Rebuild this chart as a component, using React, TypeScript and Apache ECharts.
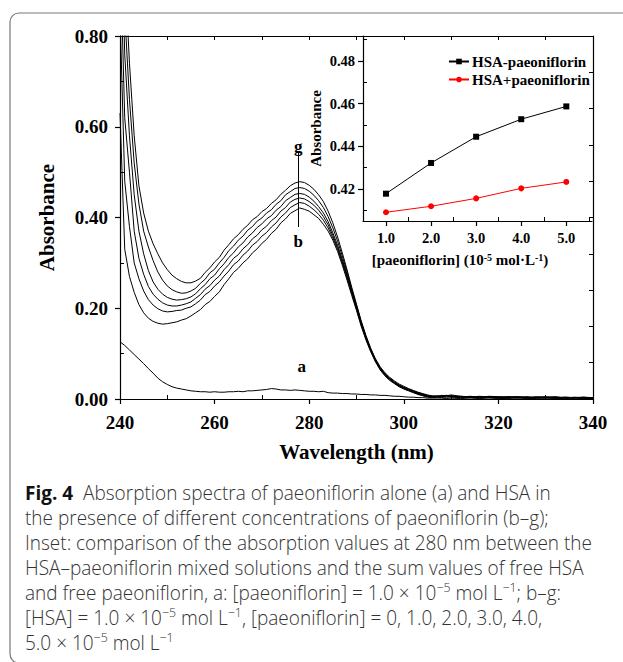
import React, { useEffect, useRef } from 'react';
import * as echarts from 'echarts';

// wavelength grid (nm)
const wavelengths = [
  240, 241, 242, 243, 244, 245, 246, 247, 248, 249,
  250, 251, 252, 253, 254, 255, 256, 257, 258, 259,
  260, 261, 262, 263, 264, 265, 266, 267, 268, 269,
  270, 271, 272, 273, 274, 275, 276, 277, 278, 279,
  280, 281, 282, 283, 284, 285, 286, 287, 288, 289,
  290, 291, 292, 293, 294, 295, 296, 297, 298, 299,
  300, 301, 302, 303, 304, 305, 306, 307, 308, 309,
  310,
  312, 314, 316, 318, 320, 322, 324, 326, 328, 330, 332, 334, 336, 338, 340,
];

const curveA = [
  0.126, 0.118, 0.108, 0.098, 0.088, 0.078, 0.067, 0.057, 0.046, 0.038,
  0.032, 0.027, 0.024, 0.022, 0.02, 0.018, 0.017, 0.016, 0.016, 0.015,
  0.016, 0.015, 0.015, 0.016, 0.016, 0.017, 0.016, 0.018, 0.018, 0.019,
  0.02, 0.021, 0.023, 0.022, 0.02, 0.02, 0.019, 0.02, 0.019, 0.018,
  0.017, 0.017, 0.016, 0.017, 0.014, 0.013, 0.013, 0.012, 0.012, 0.011,
  0.011, 0.01, 0.01, 0.009, 0.009, 0.008, 0.008, 0.007, 0.006, 0.006,
  0.005, 0.004, 0.004, 0.003, 0.003, 0.002, 0.002, 0.002, 0.002, 0.001,
  0.002,
  0.001, 0.002, 0.001, 0.002, 0.001, 0.001, 0.002, 0.001, 0.001, 0.002, 0.001, 0.001, 0.002, 0.001, 0.001,
];

const curveB = [
  0.63, 0.33, 0.27, 0.235, 0.208, 0.19, 0.178, 0.171, 0.167, 0.165,
  0.166, 0.168, 0.17, 0.174, 0.177, 0.183, 0.19, 0.197, 0.208, 0.215,
  0.226, 0.236, 0.252, 0.265, 0.279, 0.288, 0.3, 0.309, 0.322, 0.331,
  0.343, 0.352, 0.365, 0.374, 0.388, 0.397, 0.409, 0.415, 0.421, 0.418,
  0.414, 0.406, 0.398, 0.385, 0.37, 0.35, 0.325, 0.295, 0.262, 0.228,
  0.195, 0.16, 0.13, 0.104, 0.082, 0.064, 0.051, 0.041, 0.034, 0.027,
  0.022, 0.018, 0.014, 0.01, 0.007, 0.004, 0.003, 0.004, 0.003, 0.005,
  0.004,
  0.003, 0.005, 0.002, 0.004, 0.003, 0.005, 0.002, 0.004, 0.003, 0.002, 0.004, 0.003, 0.002, 0.003, 0.002,
];

const curveC = [
  0.85, 0.48, 0.38, 0.3, 0.265, 0.238, 0.219, 0.207, 0.199, 0.194,
  0.192, 0.193, 0.195, 0.196, 0.2, 0.203, 0.21, 0.218, 0.23, 0.237,
  0.249, 0.258, 0.271, 0.282, 0.296, 0.304, 0.317, 0.326, 0.339, 0.347,
  0.359, 0.367, 0.379, 0.388, 0.401, 0.41, 0.422, 0.428, 0.433, 0.431,
  0.425, 0.417, 0.407, 0.394, 0.377, 0.355, 0.33, 0.3, 0.267, 0.232,
  0.198, 0.163, 0.133, 0.106, 0.084, 0.066, 0.053, 0.043, 0.035, 0.028,
  0.023, 0.019, 0.015, 0.011, 0.008, 0.005, 0.004, 0.005, 0.006, 0.004,
  0.006,
  0.005, 0.003, 0.005, 0.004, 0.002, 0.004, 0.005, 0.003, 0.004, 0.003, 0.002, 0.004, 0.003, 0.002, 0.003,
];

const curveD = [
  1.0, 0.62, 0.5, 0.37, 0.31, 0.275, 0.248, 0.231, 0.22, 0.212,
  0.207, 0.205, 0.205, 0.207, 0.21, 0.214, 0.222, 0.23, 0.242, 0.25,
  0.262, 0.271, 0.285, 0.296, 0.31, 0.318, 0.331, 0.34, 0.353, 0.361,
  0.373, 0.381, 0.393, 0.401, 0.414, 0.422, 0.434, 0.44, 0.443, 0.441,
  0.435, 0.427, 0.416, 0.402, 0.384, 0.36, 0.334, 0.304, 0.271, 0.236,
  0.201, 0.166, 0.135, 0.108, 0.085, 0.067, 0.054, 0.044, 0.036, 0.029,
  0.024, 0.02, 0.016, 0.012, 0.009, 0.006, 0.005, 0.006, 0.005, 0.007,
  0.005,
  0.006, 0.004, 0.003, 0.005, 0.004, 0.003, 0.004, 0.002, 0.005, 0.003, 0.004, 0.002, 0.003, 0.004, 0.002,
];

const curveE = [
  1.15, 0.76, 0.58, 0.45, 0.37, 0.32, 0.283, 0.258, 0.242, 0.231,
  0.224, 0.22, 0.218, 0.219, 0.221, 0.225, 0.232, 0.243, 0.252, 0.265,
  0.273, 0.287, 0.298, 0.312, 0.322, 0.335, 0.344, 0.357, 0.366, 0.378,
  0.386, 0.397, 0.404, 0.416, 0.424, 0.437, 0.444, 0.451, 0.453, 0.451,
  0.445, 0.436, 0.424, 0.41, 0.391, 0.366, 0.339, 0.308, 0.275, 0.239,
  0.204, 0.168, 0.137, 0.109, 0.086, 0.068, 0.055, 0.045, 0.037, 0.03,
  0.025, 0.021, 0.017, 0.013, 0.01, 0.007, 0.006, 0.005, 0.007, 0.008,
  0.006,
  0.004, 0.006, 0.004, 0.003, 0.005, 0.004, 0.003, 0.005, 0.003, 0.004, 0.002, 0.004, 0.003, 0.002, 0.003,
];

const curveF = [
  1.3, 0.85, 0.66, 0.52, 0.43, 0.37, 0.335, 0.305, 0.28, 0.262,
  0.249, 0.241, 0.236, 0.233, 0.234, 0.238, 0.244, 0.255, 0.264, 0.278,
  0.286, 0.3, 0.312, 0.327, 0.337, 0.35, 0.359, 0.372, 0.38, 0.392,
  0.399, 0.41, 0.417, 0.429, 0.437, 0.45, 0.457, 0.464, 0.466, 0.464,
  0.458, 0.449, 0.437, 0.422, 0.402, 0.377, 0.348, 0.315, 0.28, 0.242,
  0.206, 0.17, 0.138, 0.11, 0.087, 0.069, 0.056, 0.046, 0.038, 0.031,
  0.026, 0.022, 0.018, 0.014, 0.011, 0.008, 0.006, 0.007, 0.006, 0.008,
  0.007,
  0.005, 0.004, 0.006, 0.004, 0.003, 0.005, 0.004, 0.003, 0.004, 0.005, 0.003, 0.002, 0.004, 0.003, 0.002,
];

const curveG = [
  1.45, 0.95, 0.74, 0.58, 0.47, 0.41, 0.37, 0.342, 0.32, 0.3,
  0.285, 0.273, 0.265, 0.259, 0.256, 0.256, 0.26, 0.266, 0.279, 0.289,
  0.302, 0.312, 0.328, 0.34, 0.353, 0.362, 0.374, 0.383, 0.395, 0.402,
  0.413, 0.42, 0.431, 0.439, 0.451, 0.46, 0.47, 0.476, 0.479, 0.477,
  0.471, 0.462, 0.45, 0.435, 0.414, 0.388, 0.357, 0.322, 0.285, 0.246,
  0.209, 0.172, 0.14, 0.112, 0.089, 0.071, 0.058, 0.048, 0.04, 0.033,
  0.028, 0.023, 0.019, 0.015, 0.012, 0.009, 0.007, 0.006, 0.008, 0.007,
  0.009,
  0.006, 0.005, 0.004, 0.006, 0.005, 0.003, 0.005, 0.004, 0.003, 0.004, 0.005, 0.003, 0.002, 0.004, 0.003,
];

// inset
const insetConc = [1.0, 2.0, 3.0, 4.0, 5.0];
const insetMixed = [0.4178, 0.4322, 0.4445, 0.4527, 0.4587];
const insetSum = [0.4091, 0.4119, 0.4156, 0.4203, 0.4233];
const insetXTicks = [1, 2, 3, 4, 5];
const insetXMinor = [1.5, 2.5, 3.5, 4.5, 5.5];
const insetYTicks = [0.42, 0.44, 0.46, 0.48];
const insetYMinor = [0.41, 0.43, 0.45, 0.47, 0.49];
const mainYMinor = [0.1, 0.3, 0.5, 0.7];
const mainXMinor = [250, 270, 290, 310, 330];

const captionLines = [
  '{b|Fig. 4}  Absorption spectra of paeoniflorin alone (a) and HSA in',
  'the presence of different concentrations of paeoniflorin (b–g);',
  'Inset: comparison of the absorption values at 280 nm between the',
  'HSA–paeoniflorin mixed solutions and the sum values of free HSA',
  'and free paeoniflorin, a: [paeoniflorin] = 1.0 × 10{s|−5} mol L{s|−1}; b–g:',
  '[HSA] = 1.0 × 10{s|−5} mol L{s|−1}, [paeoniflorin] = 0, 1.0, 2.0, 3.0, 4.0,',
  '5.0 × 10{s|−5} mol L{s|−1}',
];

const SERIF = '"Liberation Serif", "Times New Roman", serif';
const SANS = '"Open Sans", "Noto Sans", sans-serif';

export default function App() {
  const ref = useRef<HTMLDivElement>(null);
  useEffect(() => {
    if (!ref.current) return;
    const chart = echarts.init(ref.current, null, { renderer: 'svg' });
    const pair = (ys: number[]) => wavelengths.map((w, i) => [w, ys[i]]);
    const lineSer = (name: string, ys: number[], extra: any = {}) => ({
      name,
      type: 'line',
      xAxisIndex: 0,
      yAxisIndex: 0,
      data: pair(ys),
      showSymbol: false,
      symbol: 'none',
      clip: true,
      lineStyle: { color: '#000', width: 1 },
      itemStyle: { color: '#000' },
      silent: true,
      z: 3,
      ...extra,
    });
    const black = '#000';
    const axisLine = { show: true, onZero: false, lineStyle: { color: black, width: 1.2 } };
    const noLine = { show: false, onZero: false };
    const noLabel = { show: false };
    const boldLabel = (size: number, margin: number, fmt: (v: number) => string) => ({
      show: true,
      color: black,
      fontFamily: SERIF,
      fontWeight: 'bold',
      fontSize: size,
      margin,
      formatter: fmt,
    });

    const option: any = {
      animation: false,
      backgroundColor: '#fff',
      grid: [
        { left: 120, right: 30, top: 36, height: 363 },
        { left: 363, right: 31, top: 36, height: 185 },
      ],
      xAxis: [
        {
          gridIndex: 0, type: 'value', position: 'bottom', min: 240, max: 340, interval: 20,
          axisLine, splitLine: { show: false },
          axisTick: { show: true, inside: false, length: 5, lineStyle: { color: black, width: 1.2 } },
          axisLabel: boldLabel(19, 14, (v: number) => String(v)),
          name: 'Wavelength (nm)', nameLocation: 'middle', nameGap: 42,
          nameTextStyle: { color: black, fontFamily: SERIF, fontWeight: 'bold', fontSize: 21 },
        },
        {
          gridIndex: 0, type: 'value', position: 'bottom', min: 240, max: 340,
          axisLine: noLine, splitLine: { show: false }, axisLabel: noLabel,
          axisTick: { show: true, inside: true, length: 4, customValues: mainXMinor, lineStyle: { color: black, width: 1 } },
        },
        {
          gridIndex: 0, type: 'value', position: 'top', min: 240, max: 340, interval: 10,
          axisLine, splitLine: { show: false }, axisLabel: noLabel,
          axisTick: { show: true, inside: true, length: 4, lineStyle: { color: black, width: 1 } },
        },
        {
          gridIndex: 1, type: 'value', position: 'bottom', min: 0.49, max: 5.57,
          axisLine, splitLine: { show: false },
          axisTick: { show: true, inside: false, length: 5, customValues: insetXTicks, lineStyle: { color: black, width: 1.2 } },
          axisLabel: { ...boldLabel(14.5, 9, (v: number) => v.toFixed(1)), customValues: insetXTicks },
        },
        {
          gridIndex: 1, type: 'value', position: 'bottom', min: 0.49, max: 5.57,
          axisLine: noLine, splitLine: { show: false }, axisLabel: noLabel,
          axisTick: { show: true, inside: true, length: 4, customValues: insetXMinor, lineStyle: { color: black, width: 1 } },
        },
      ],
      yAxis: [
        {
          gridIndex: 0, type: 'value', position: 'left', min: 0, max: 0.8, interval: 0.2,
          axisLine, splitLine: { show: false },
          axisTick: { show: true, inside: false, length: 5, lineStyle: { color: black, width: 1.2 } },
          axisLabel: boldLabel(19, 12, (v: number) => v.toFixed(2)),
          name: 'Absorbance', nameLocation: 'middle', nameGap: 63,
          nameTextStyle: { color: black, fontFamily: SERIF, fontWeight: 'bold', fontSize: 21 },
        },
        {
          gridIndex: 0, type: 'value', position: 'left', min: 0, max: 0.8,
          axisLine: noLine, splitLine: { show: false }, axisLabel: noLabel,
          axisTick: { show: true, inside: true, length: 4, customValues: mainYMinor, lineStyle: { color: black, width: 1 } },
        },
        {
          gridIndex: 0, type: 'value', position: 'right', min: 0, max: 0.8, interval: 0.08,
          axisLine, splitLine: { show: false }, axisLabel: noLabel,
          axisTick: { show: true, inside: true, length: 4, lineStyle: { color: black, width: 1 } },
        },
        {
          gridIndex: 1, type: 'value', position: 'left', min: 0.405, max: 0.4917,
          axisLine, splitLine: { show: false },
          axisTick: { show: true, inside: false, length: 5, customValues: insetYTicks, lineStyle: { color: black, width: 1.2 } },
          axisLabel: { ...boldLabel(14.5, 8, (v: number) => v.toFixed(2)), customValues: insetYTicks },
          name: 'Absorbance', nameLocation: 'middle', nameGap: 40,
          nameTextStyle: { color: black, fontFamily: SERIF, fontWeight: 'bold', fontSize: 15 },
        },
        {
          gridIndex: 1, type: 'value', position: 'left', min: 0.405, max: 0.4917,
          axisLine: noLine, splitLine: { show: false }, axisLabel: noLabel,
          axisTick: { show: true, inside: true, length: 4, customValues: insetYMinor, lineStyle: { color: black, width: 1 } },
        },
      ],
      legend: {
        show: true,
        data: ['HSA-paeoniflorin', 'HSA+paeoniflorin'],
        orient: 'vertical',
        left: 443,
        top: 49,
        itemWidth: 20,
        itemHeight: 7,
        itemGap: 3,
        selectedMode: false,
        textStyle: { color: black, fontFamily: SERIF, fontWeight: 'bold', fontSize: 15, padding: [0, 0, 0, -2] },
      },
      series: [
        lineSer('b', curveB, {
          markLine: {
            silent: true,
            symbol: ['none', 'arrow'],
            symbolSize: [0, 8],
            lineStyle: { color: black, width: 1, type: 'solid' },
            label: { show: false },
            data: [[{ coord: [277.7, 0.379] }, { coord: [277.7, 0.544] }]],
          },
          markPoint: {
            silent: true,
            symbol: 'circle',
            symbolSize: 1,
            itemStyle: { color: 'rgba(0,0,0,0)' },
            label: {
              show: true, position: 'inside', formatter: '{b}', color: black,
              fontFamily: SERIF, fontWeight: 'bold', fontSize: 17,
            },
            data: [
              { name: 'b', coord: [277.7, 0.347] },
              { name: 'g', coord: [277.7, 0.556] },
              { name: 'a', coord: [278.4, 0.071] },
            ],
          },
        }),
        lineSer('c', curveC),
        lineSer('d', curveD),
        lineSer('e', curveE),
        lineSer('f', curveF),
        lineSer('g', curveG),
        lineSer('a', curveA),
        {
          name: 'HSA-paeoniflorin', type: 'line', xAxisIndex: 3, yAxisIndex: 3,
          data: insetConc.map((c, i) => [c, insetMixed[i]]),
          symbol: 'rect', symbolSize: 6, showSymbol: true,
          lineStyle: { color: black, width: 1 }, itemStyle: { color: black }, z: 5,
        },
        {
          name: 'HSA+paeoniflorin', type: 'line', xAxisIndex: 3, yAxisIndex: 3,
          data: insetConc.map((c, i) => [c, insetSum[i]]),
          symbol: 'circle', symbolSize: 6, showSymbol: true,
          lineStyle: { color: '#ff0000', width: 1 }, itemStyle: { color: '#ff0000' }, z: 5,
        },
      ],
      graphic: [
        {
          type: 'rect', silent: true, z: 0,
          shape: { x: 10, y: 13, width: 640, height: 650, r: 9 },
          style: { fill: 'none', stroke: '#777', lineWidth: 1.2 },
        },
        {
          type: 'text', silent: true, x: 460, y: 260,
          style: {
            text: '[paeoniflorin] (10{s|-5} mol·L{s|-1})',
            fill: black, font: `bold 15px ${SERIF}`, align: 'center', verticalAlign: 'middle',
            rich: {
              s: { fontSize: 10, fontFamily: SERIF, fontWeight: 'bold', verticalAlign: 'top', lineHeight: 10, fill: black },
            },
          },
        },
        ...captionLines.map((t, i) => ({
          type: 'text', silent: true, x: 25, y: 492 + 25 * i, scaleX: 0.95,
          style: {
            text: t,
            fill: '#333', font: `300 20px ${SANS}`, align: 'left', verticalAlign: 'middle',
            lineHeight: 24,
            rich: {
              b: { fontFamily: SANS, fontWeight: 'bold', fontSize: 20, fill: '#111', lineHeight: 24 },
              s: { fontFamily: SANS, fontWeight: 300, fontSize: 13, verticalAlign: 'top', lineHeight: 13, fill: '#333' },
            },
          },
        })),
      ],
    };
    chart.setOption(option);
    return () => chart.dispose();
  }, []);
  return <div ref={ref} style={{ position: 'absolute', left: 0, top: 0, width: 623, height: 662 }} />;
}
